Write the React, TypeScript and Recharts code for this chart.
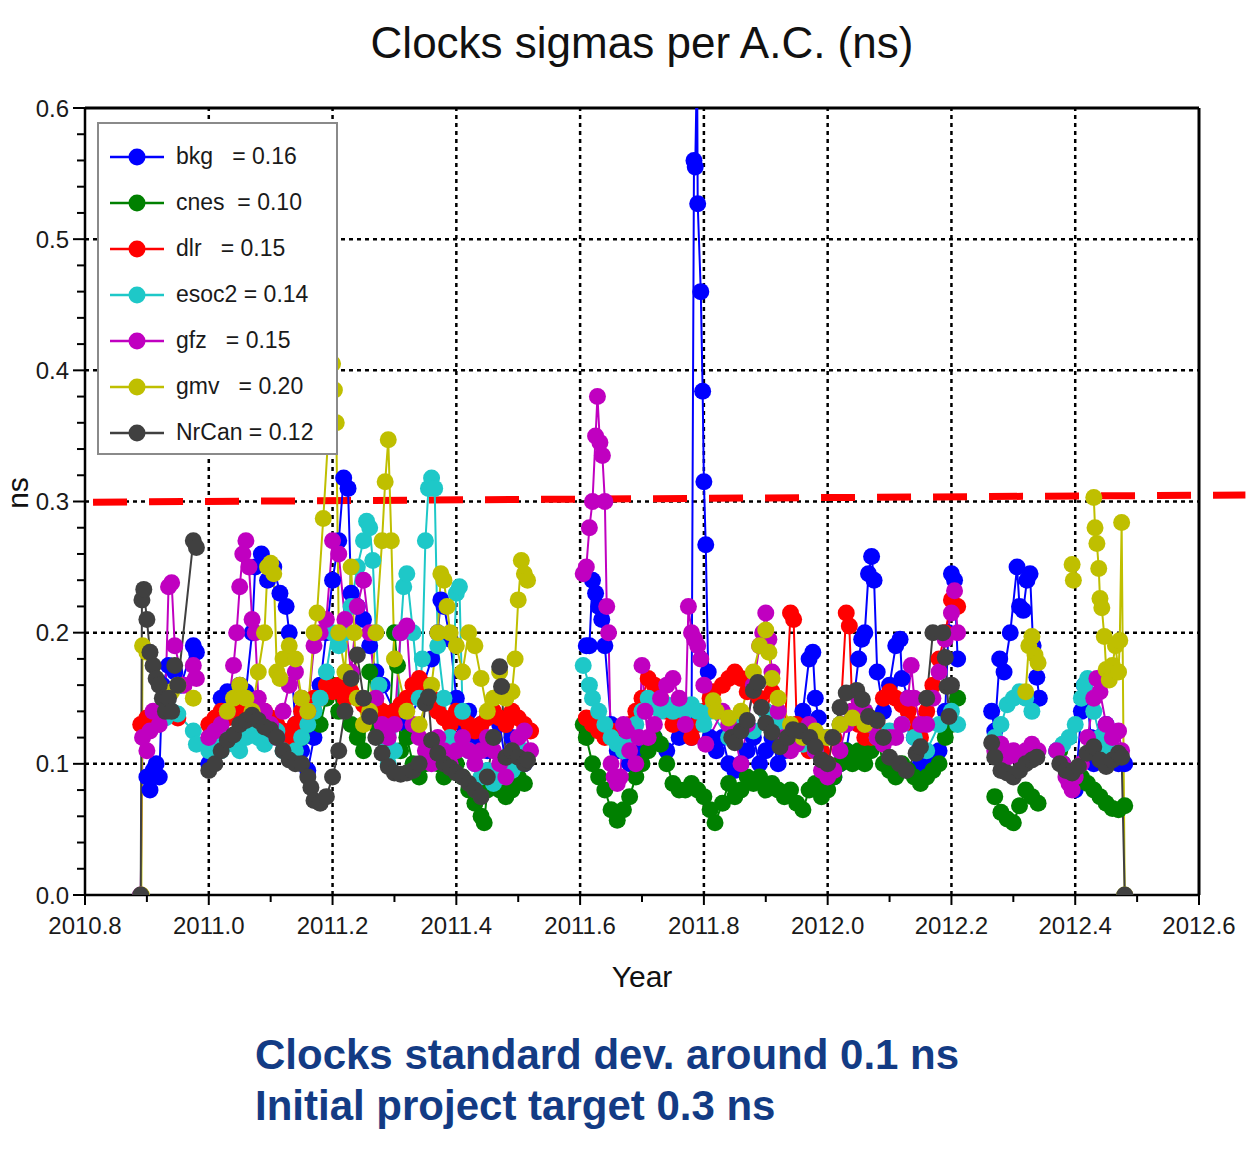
import React from "react";
import { LineChart, Line, XAxis, YAxis, ReferenceLine } from "recharts";

// [year, sigma in ns]; null breaks the line between observation campaigns
type Pt = [number, number | null];

const xTicks = [2010.8, 2010.9, 2011.0, 2011.1, 2011.2, 2011.3, 2011.4, 2011.5, 2011.6, 2011.7, 2011.8, 2011.9, 2012.0, 2012.1, 2012.2, 2012.3, 2012.4, 2012.5, 2012.6];
const yTicks = [0, 0.02, 0.04, 0.06, 0.08, 0.1, 0.12, 0.14, 0.16, 0.18, 0.2, 0.22, 0.24, 0.26, 0.28, 0.3, 0.32, 0.34, 0.36, 0.38, 0.4, 0.42, 0.44, 0.46, 0.48, 0.5, 0.52, 0.54, 0.56, 0.58, 0.6];
const gridX = [2011.0, 2011.2, 2011.4, 2011.6, 2011.8, 2012.0, 2012.2, 2012.4];
const gridY = [0.1, 0.2, 0.3, 0.4, 0.5];
const targetLine = [
  { x: 2010.813, y: 0.2995 },
  { x: 2012.675, y: 0.305 },
];

const bkg: Pt[] = [
  [2010.9, 0.09], [2010.905, 0.08], [2010.91, 0.095], [2010.915, 0.1], [2010.92, 0.09],
  [2010.925, 0.16], [2010.935, 0.175], [2010.945, 0.17], [2010.955, 0.16], [2010.975, 0.19], [2010.98, 0.185],
  [2010.99, null],
  [2011.0, 0.1], [2011.01, 0.13], [2011.02, 0.15], [2011.03, 0.155], [2011.04, 0.15], [2011.05, 0.16], [2011.06, 0.155],
  [2011.07, 0.2], [2011.075, 0.25], [2011.085, 0.26], [2011.095, 0.24], [2011.105, 0.25], [2011.115, 0.23], [2011.125, 0.22],
  [2011.13, 0.2], [2011.14, 0.13], [2011.15, 0.11], [2011.16, 0.095], [2011.17, 0.12], [2011.18, 0.16], [2011.19, 0.2],
  [2011.2, 0.24], [2011.21, 0.27], [2011.218, 0.318], [2011.225, 0.31], [2011.23, 0.23], [2011.24, 0.22], [2011.25, 0.21],
  [2011.26, 0.19], [2011.27, 0.17], [2011.28, 0.16], [2011.3, 0.14], [2011.32, 0.13], [2011.34, 0.15], [2011.36, 0.18],
  [2011.37, 0.2], [2011.375, 0.225], [2011.38, 0.22], [2011.39, 0.195], [2011.4, 0.15], [2011.41, 0.13], [2011.42, 0.14],
  [2011.43, 0.12], [2011.44, 0.13], [2011.45, 0.11], [2011.46, 0.12], [2011.47, 0.13], [2011.48, 0.1], [2011.49, 0.12],
  [2011.5, 0.11], [2011.51, 0.1],
  [2011.56, null],
  [2011.61, 0.19], [2011.615, 0.19], [2011.62, 0.24], [2011.625, 0.23], [2011.63, 0.22], [2011.635, 0.21], [2011.64, 0.19],
  [2011.65, 0.13], [2011.66, 0.11], [2011.68, 0.1], [2011.7, 0.11], [2011.72, 0.12], [2011.74, 0.11], [2011.76, 0.12],
  [2011.78, 0.12], [2011.784, 0.56], [2011.786, 0.555], [2011.789, 0.64], [2011.79, 0.527], [2011.795, 0.46],
  [2011.798, 0.384], [2011.8, 0.315], [2011.803, 0.267], [2011.807, 0.17], [2011.81, 0.12], [2011.82, 0.11],
  [2011.83, 0.12], [2011.84, 0.1], [2011.85, 0.095], [2011.86, 0.1], [2011.87, 0.11], [2011.88, 0.12], [2011.89, 0.1],
  [2011.9, 0.11], [2011.91, 0.12], [2011.92, 0.1], [2011.93, 0.11], [2011.94, 0.12], [2011.95, 0.13], [2011.96, 0.14],
  [2011.97, 0.18], [2011.976, 0.185], [2011.98, 0.15], [2011.985, 0.135], [2011.99, 0.12], [2012.0, 0.1], [2012.01, 0.09],
  [2012.02, 0.1], [2012.03, 0.11], [2012.04, 0.14], [2012.05, 0.18], [2012.055, 0.195], [2012.06, 0.2], [2012.066, 0.245],
  [2012.071, 0.258], [2012.075, 0.24], [2012.08, 0.17], [2012.09, 0.14], [2012.1, 0.16], [2012.11, 0.19], [2012.117, 0.195],
  [2012.12, 0.165], [2012.13, 0.15], [2012.14, 0.12], [2012.15, 0.1], [2012.16, 0.095], [2012.17, 0.1], [2012.18, 0.11],
  [2012.19, 0.14], [2012.195, 0.2], [2012.2, 0.245], [2012.205, 0.24], [2012.21, 0.18],
  [2012.24, null],
  [2012.265, 0.14], [2012.27, 0.125], [2012.278, 0.18], [2012.285, 0.17], [2012.295, 0.2], [2012.306, 0.25], [2012.31, 0.22],
  [2012.316, 0.217], [2012.322, 0.24], [2012.327, 0.245], [2012.332, 0.19], [2012.338, 0.166], [2012.342, 0.15],
  [2012.355, null],
  [2012.37, 0.11], [2012.38, 0.1], [2012.39, 0.09], [2012.4, 0.08], [2012.41, 0.14], [2012.415, 0.16], [2012.42, 0.15],
  [2012.425, 0.12], [2012.43, 0.1], [2012.44, 0.12], [2012.45, 0.13], [2012.46, 0.11], [2012.47, 0.1], [2012.48, 0.1],
];

const cnes: Pt[] = [
  [2011.15, 0.12], [2011.16, 0.13], [2011.17, 0.14], [2011.18, 0.13], [2011.19, 0.15], [2011.2, 0.16], [2011.21, 0.14],
  [2011.22, 0.15], [2011.23, 0.13], [2011.24, 0.12], [2011.25, 0.11], [2011.26, 0.17], [2011.27, 0.13], [2011.28, 0.12],
  [2011.29, 0.11], [2011.3, 0.2], [2011.305, 0.175], [2011.31, 0.11], [2011.32, 0.12], [2011.33, 0.1], [2011.34, 0.09],
  [2011.35, 0.1], [2011.36, 0.11], [2011.37, 0.1], [2011.38, 0.09], [2011.39, 0.1], [2011.4, 0.1], [2011.41, 0.09],
  [2011.42, 0.08], [2011.43, 0.07], [2011.44, 0.06], [2011.445, 0.055], [2011.45, 0.08], [2011.46, 0.09], [2011.47, 0.08],
  [2011.48, 0.075], [2011.49, 0.08], [2011.5, 0.09], [2011.51, 0.085],
  [2011.56, null],
  [2011.605, 0.13], [2011.61, 0.12], [2011.62, 0.1], [2011.63, 0.09], [2011.64, 0.08], [2011.65, 0.065], [2011.66, 0.057],
  [2011.67, 0.065], [2011.68, 0.075], [2011.69, 0.09], [2011.7, 0.1], [2011.71, 0.11], [2011.72, 0.12], [2011.73, 0.115],
  [2011.74, 0.1], [2011.75, 0.085], [2011.76, 0.08], [2011.77, 0.08], [2011.78, 0.085], [2011.79, 0.08], [2011.8, 0.075],
  [2011.81, 0.065], [2011.818, 0.055], [2011.83, 0.07], [2011.84, 0.085], [2011.85, 0.075], [2011.86, 0.08], [2011.87, 0.09],
  [2011.88, 0.085], [2011.89, 0.09], [2011.9, 0.08], [2011.91, 0.085], [2011.92, 0.08], [2011.93, 0.075], [2011.94, 0.08],
  [2011.95, 0.07], [2011.96, 0.065], [2011.97, 0.08], [2011.98, 0.085], [2011.99, 0.075], [2012.0, 0.08], [2012.01, 0.09],
  [2012.02, 0.1], [2012.03, 0.11], [2012.04, 0.1], [2012.05, 0.11], [2012.06, 0.1], [2012.07, 0.11], [2012.08, 0.12],
  [2012.09, 0.1], [2012.1, 0.095], [2012.11, 0.09], [2012.12, 0.1], [2012.13, 0.095], [2012.14, 0.09], [2012.15, 0.085],
  [2012.16, 0.09], [2012.17, 0.095], [2012.18, 0.1], [2012.19, 0.12], [2012.2, 0.13], [2012.21, 0.15],
  [2012.24, null],
  [2012.27, 0.075], [2012.28, 0.063], [2012.29, 0.058], [2012.3, 0.055], [2012.31, 0.068], [2012.32, 0.08], [2012.33, 0.075],
  [2012.34, 0.07],
  [2012.355, null],
  [2012.375, 0.11], [2012.38, 0.1], [2012.39, 0.09], [2012.4, 0.085], [2012.41, 0.09], [2012.42, 0.085], [2012.43, 0.08],
  [2012.44, 0.075], [2012.45, 0.07], [2012.46, 0.066], [2012.47, 0.065], [2012.48, 0.068],
];

const dlr: Pt[] = [
  [2010.89, 0.13], [2010.9, 0.135], [2010.91, 0.133], [2010.92, 0.135], [2010.93, 0.14], [2010.94, 0.138], [2010.95, 0.135],
  [2010.99, null],
  [2011.0, 0.13], [2011.01, 0.135], [2011.02, 0.14], [2011.03, 0.135], [2011.04, 0.14], [2011.05, 0.145], [2011.06, 0.14],
  [2011.07, 0.135], [2011.08, 0.13], [2011.09, 0.14], [2011.1, 0.135], [2011.11, 0.13], [2011.12, 0.125], [2011.13, 0.12],
  [2011.14, 0.13], [2011.15, 0.14], [2011.16, 0.145], [2011.17, 0.15], [2011.18, 0.15], [2011.19, 0.16], [2011.2, 0.155],
  [2011.21, 0.16], [2011.22, 0.15], [2011.23, 0.155], [2011.24, 0.15], [2011.25, 0.145], [2011.26, 0.14], [2011.27, 0.145],
  [2011.28, 0.14], [2011.29, 0.135], [2011.3, 0.14], [2011.31, 0.145], [2011.32, 0.15], [2011.33, 0.16], [2011.34, 0.165],
  [2011.35, 0.16], [2011.36, 0.15], [2011.37, 0.14], [2011.38, 0.135], [2011.39, 0.13], [2011.4, 0.14], [2011.41, 0.135],
  [2011.42, 0.13], [2011.43, 0.125], [2011.44, 0.13], [2011.45, 0.135], [2011.46, 0.14], [2011.47, 0.135], [2011.48, 0.13],
  [2011.49, 0.14], [2011.5, 0.135], [2011.51, 0.13], [2011.52, 0.125],
  [2011.56, null],
  [2011.61, 0.135], [2011.62, 0.13], [2011.63, 0.125], [2011.64, 0.12], [2011.65, 0.125], [2011.66, 0.12], [2011.67, 0.125],
  [2011.68, 0.13], [2011.69, 0.14], [2011.7, 0.15], [2011.71, 0.165], [2011.72, 0.16], [2011.73, 0.15], [2011.74, 0.14],
  [2011.75, 0.13], [2011.76, 0.14], [2011.77, 0.13], [2011.78, 0.12], [2011.79, 0.13], [2011.8, 0.14], [2011.81, 0.15],
  [2011.815, 0.155], [2011.83, 0.16], [2011.84, 0.165], [2011.85, 0.17], [2011.86, 0.165], [2011.87, 0.155], [2011.88, 0.16],
  [2011.89, 0.15], [2011.9, 0.14], [2011.91, 0.155], [2011.92, 0.13], [2011.93, 0.12], [2011.94, 0.215], [2011.945, 0.21],
  [2011.95, 0.13], [2011.96, 0.12], [2011.97, 0.11], [2011.98, 0.12], [2011.99, 0.11], [2012.0, 0.1], [2012.01, 0.12],
  [2012.02, 0.13], [2012.03, 0.215], [2012.035, 0.205], [2012.04, 0.14], [2012.05, 0.13], [2012.06, 0.12], [2012.07, 0.12],
  [2012.08, 0.13], [2012.09, 0.15], [2012.1, 0.155], [2012.11, 0.15], [2012.12, 0.145], [2012.13, 0.14], [2012.14, 0.13],
  [2012.15, 0.12], [2012.16, 0.14], [2012.17, 0.16], [2012.18, 0.18], [2012.19, 0.2], [2012.2, 0.225], [2012.21, 0.22],
];

const esoc2: Pt[] = [
  [2010.93, 0.135], [2010.94, 0.14], [2010.95, 0.138], [2010.975, 0.125], [2010.98, 0.115],
  [2010.99, null],
  [2011.0, 0.11], [2011.01, 0.115], [2011.02, 0.11], [2011.03, 0.12], [2011.04, 0.115], [2011.05, 0.11], [2011.06, 0.12],
  [2011.07, 0.125], [2011.08, 0.12], [2011.09, 0.115], [2011.1, 0.12], [2011.11, 0.125], [2011.12, 0.11], [2011.13, 0.105],
  [2011.14, 0.11], [2011.15, 0.12], [2011.16, 0.13], [2011.17, 0.14], [2011.18, 0.15], [2011.19, 0.17], [2011.2, 0.2],
  [2011.21, 0.19], [2011.22, 0.2], [2011.23, 0.22], [2011.24, 0.25], [2011.25, 0.27], [2011.255, 0.285], [2011.26, 0.28],
  [2011.265, 0.255], [2011.27, 0.2], [2011.275, 0.16], [2011.28, 0.12], [2011.29, 0.1], [2011.3, 0.11], [2011.31, 0.2],
  [2011.315, 0.235], [2011.32, 0.245], [2011.33, 0.2], [2011.34, 0.15], [2011.345, 0.18], [2011.35, 0.27], [2011.355, 0.31],
  [2011.36, 0.318], [2011.365, 0.31], [2011.37, 0.19], [2011.38, 0.15], [2011.39, 0.12], [2011.4, 0.23], [2011.405, 0.235],
  [2011.41, 0.14], [2011.42, 0.11], [2011.43, 0.1], [2011.44, 0.09], [2011.45, 0.095], [2011.46, 0.085], [2011.47, 0.09],
  [2011.48, 0.1], [2011.49, 0.095], [2011.5, 0.1], [2011.51, 0.11],
  [2011.56, null],
  [2011.605, 0.175], [2011.615, 0.16], [2011.62, 0.15], [2011.63, 0.14], [2011.64, 0.13], [2011.65, 0.12], [2011.66, 0.115],
  [2011.67, 0.11], [2011.68, 0.12], [2011.69, 0.13], [2011.7, 0.14], [2011.71, 0.15], [2011.72, 0.145], [2011.73, 0.14],
  [2011.74, 0.145], [2011.75, 0.14], [2011.76, 0.145], [2011.77, 0.14], [2011.78, 0.145], [2011.79, 0.14], [2011.8, 0.13],
  [2011.81, 0.14], [2011.84, 0.12], [2011.86, 0.13], [2011.88, 0.125], [2011.9, 0.14], [2011.92, 0.13], [2011.94, 0.12],
  [2011.96, 0.115], [2011.98, 0.11], [2012.0, 0.12], [2012.02, 0.13], [2012.04, 0.135], [2012.06, 0.14], [2012.07, 0.13],
  [2012.08, 0.12], [2012.09, 0.12], [2012.1, 0.125], [2012.12, 0.13], [2012.14, 0.12], [2012.16, 0.11], [2012.18, 0.13],
  [2012.2, 0.14], [2012.21, 0.13],
  [2012.24, null],
  [2012.27, 0.12], [2012.28, 0.13], [2012.29, 0.145], [2012.3, 0.15], [2012.31, 0.155], [2012.32, 0.15], [2012.33, 0.14],
  [2012.355, null],
  [2012.37, 0.11], [2012.38, 0.115], [2012.39, 0.12], [2012.4, 0.13], [2012.41, 0.15], [2012.415, 0.16], [2012.42, 0.165],
  [2012.43, 0.14], [2012.44, 0.12], [2012.45, 0.11], [2012.46, 0.11],
];

const gfz: Pt[] = [
  [2010.89, 0.0], [2010.893, 0.12], [2010.9, 0.11], [2010.905, 0.125], [2010.91, 0.14], [2010.92, 0.13], [2010.93, 0.15],
  [2010.935, 0.235], [2010.94, 0.238], [2010.945, 0.19], [2010.96, 0.16], [2010.975, 0.175], [2010.98, 0.165],
  [2010.99, null],
  [2011.0, 0.12], [2011.01, 0.125], [2011.02, 0.13], [2011.03, 0.14], [2011.04, 0.175], [2011.045, 0.2], [2011.05, 0.235],
  [2011.055, 0.26], [2011.06, 0.27], [2011.065, 0.25], [2011.07, 0.21], [2011.075, 0.2], [2011.08, 0.15], [2011.09, 0.14],
  [2011.1, 0.13], [2011.11, 0.12], [2011.12, 0.14], [2011.13, 0.16], [2011.14, 0.17], [2011.15, 0.15], [2011.16, 0.14],
  [2011.17, 0.19], [2011.18, 0.2], [2011.19, 0.21], [2011.2, 0.27], [2011.21, 0.26], [2011.22, 0.21], [2011.23, 0.17],
  [2011.24, 0.22], [2011.25, 0.24], [2011.26, 0.2], [2011.27, 0.15], [2011.28, 0.13], [2011.29, 0.12], [2011.3, 0.13],
  [2011.31, 0.2], [2011.32, 0.205], [2011.33, 0.13], [2011.34, 0.12], [2011.35, 0.11], [2011.36, 0.1], [2011.37, 0.12],
  [2011.38, 0.11], [2011.39, 0.1], [2011.4, 0.11], [2011.41, 0.12], [2011.42, 0.11], [2011.43, 0.1], [2011.44, 0.11],
  [2011.45, 0.12], [2011.46, 0.11], [2011.47, 0.1], [2011.48, 0.09], [2011.49, 0.11], [2011.5, 0.12], [2011.51, 0.125],
  [2011.52, 0.11],
  [2011.56, null],
  [2011.605, 0.245], [2011.61, 0.25], [2011.615, 0.28], [2011.62, 0.3], [2011.625, 0.35], [2011.628, 0.38], [2011.632, 0.345],
  [2011.636, 0.335], [2011.64, 0.3], [2011.643, 0.22], [2011.646, 0.2], [2011.65, 0.1], [2011.655, 0.09], [2011.66, 0.085],
  [2011.665, 0.09], [2011.67, 0.13], [2011.675, 0.125], [2011.68, 0.11], [2011.69, 0.1], [2011.695, 0.12], [2011.7, 0.175],
  [2011.705, 0.14], [2011.71, 0.12], [2011.72, 0.13], [2011.73, 0.15], [2011.74, 0.16], [2011.75, 0.165], [2011.76, 0.15],
  [2011.77, 0.13], [2011.775, 0.22], [2011.78, 0.2], [2011.785, 0.195], [2011.79, 0.19], [2011.795, 0.18], [2011.8, 0.16],
  [2011.803, 0.115], [2011.83, 0.14], [2011.84, 0.13], [2011.85, 0.12], [2011.86, 0.1], [2011.87, 0.13], [2011.88, 0.16],
  [2011.89, 0.19], [2011.895, 0.2], [2011.9, 0.215], [2011.905, 0.195], [2011.91, 0.17], [2011.92, 0.14], [2011.93, 0.12],
  [2011.94, 0.11], [2011.95, 0.115], [2011.96, 0.12], [2011.97, 0.13], [2011.98, 0.11], [2011.99, 0.095], [2012.0, 0.09],
  [2012.01, 0.095], [2012.02, 0.11], [2012.03, 0.13], [2012.04, 0.14], [2012.05, 0.15], [2012.06, 0.14], [2012.07, 0.13],
  [2012.08, 0.12], [2012.09, 0.115], [2012.1, 0.12], [2012.11, 0.12], [2012.12, 0.13], [2012.13, 0.15], [2012.135, 0.175],
  [2012.14, 0.15], [2012.15, 0.13], [2012.16, 0.13], [2012.17, 0.15], [2012.18, 0.17], [2012.19, 0.195], [2012.2, 0.215],
  [2012.205, 0.232], [2012.21, 0.2],
  [2012.24, null],
  [2012.27, 0.11], [2012.28, 0.115], [2012.29, 0.105], [2012.3, 0.11], [2012.31, 0.105], [2012.32, 0.11], [2012.33, 0.115],
  [2012.34, 0.11],
  [2012.355, null],
  [2012.37, 0.11], [2012.38, 0.1], [2012.385, 0.09], [2012.39, 0.085], [2012.395, 0.08], [2012.4, 0.09], [2012.41, 0.1],
  [2012.42, 0.12], [2012.43, 0.15], [2012.435, 0.165], [2012.44, 0.155], [2012.45, 0.13], [2012.46, 0.12], [2012.47, 0.125],
  [2012.475, 0.11],
];

const gmv: Pt[] = [
  [2010.891, 0.0], [2010.893, 0.19], [2010.9, 0.185], [2010.94, 0.155], [2010.95, 0.16], [2010.975, 0.15],
  [2010.99, null],
  [2011.03, 0.14], [2011.04, 0.15], [2011.05, 0.16], [2011.06, 0.15], [2011.07, 0.14], [2011.08, 0.17], [2011.09, 0.2],
  [2011.095, 0.25], [2011.1, 0.253], [2011.105, 0.245], [2011.11, 0.17], [2011.115, 0.165], [2011.12, 0.18], [2011.13, 0.19],
  [2011.14, 0.18], [2011.15, 0.15], [2011.16, 0.14], [2011.17, 0.2], [2011.175, 0.215], [2011.185, 0.287], [2011.2, 0.405],
  [2011.203, 0.385], [2011.206, 0.36], [2011.21, 0.2], [2011.22, 0.17], [2011.23, 0.25], [2011.235, 0.2], [2011.24, 0.15],
  [2011.25, 0.13], [2011.26, 0.14], [2011.27, 0.2], [2011.28, 0.27], [2011.285, 0.315], [2011.29, 0.347], [2011.295, 0.27],
  [2011.3, 0.18], [2011.32, 0.14], [2011.34, 0.13], [2011.36, 0.16], [2011.37, 0.2], [2011.375, 0.245], [2011.38, 0.24],
  [2011.385, 0.22], [2011.39, 0.2], [2011.4, 0.19], [2011.41, 0.17], [2011.42, 0.2], [2011.43, 0.19], [2011.44, 0.165],
  [2011.45, 0.14], [2011.46, 0.15], [2011.47, 0.17], [2011.48, 0.15], [2011.49, 0.155], [2011.495, 0.18], [2011.5, 0.225],
  [2011.505, 0.255], [2011.51, 0.245], [2011.515, 0.24],
  [2011.56, null],
  [2011.815, 0.148], [2011.82, 0.14], [2011.84, 0.135], [2011.86, 0.14], [2011.88, 0.17], [2011.89, 0.19], [2011.9, 0.202],
  [2011.905, 0.185], [2011.91, 0.165], [2011.92, 0.15], [2011.94, 0.13], [2011.96, 0.12], [2011.98, 0.125], [2012.0, 0.12],
  [2012.02, 0.13], [2012.04, 0.135], [2012.06, 0.13],
  [2012.24, null],
  [2012.32, 0.155], [2012.325, 0.19], [2012.33, 0.197], [2012.335, 0.183], [2012.34, 0.177],
  [2012.355, null],
  [2012.395, 0.252], [2012.397, 0.24],
  [2012.41, null],
  [2012.43, 0.303], [2012.432, 0.28], [2012.435, 0.268], [2012.438, 0.249], [2012.44, 0.226], [2012.443, 0.219],
  [2012.447, 0.197], [2012.45, 0.172], [2012.455, 0.164], [2012.46, 0.175], [2012.465, 0.19], [2012.47, 0.17],
  [2012.472, 0.194], [2012.475, 0.284], [2012.48, 0.0],
];

const nrcan: Pt[] = [
  [2010.89, 0.0], [2010.892, 0.225], [2010.895, 0.233], [2010.9, 0.21], [2010.905, 0.185], [2010.91, 0.175], [2010.915, 0.165],
  [2010.92, 0.16], [2010.925, 0.15], [2010.93, 0.14], [2010.935, 0.15], [2010.94, 0.14], [2010.945, 0.175], [2010.95, 0.16],
  [2010.975, 0.27], [2010.98, 0.265],
  [2010.99, null],
  [2011.0, 0.095], [2011.01, 0.1], [2011.02, 0.11], [2011.03, 0.118], [2011.04, 0.122], [2011.05, 0.13], [2011.06, 0.133],
  [2011.07, 0.137], [2011.08, 0.133], [2011.09, 0.128], [2011.1, 0.126], [2011.11, 0.12], [2011.12, 0.11], [2011.13, 0.103],
  [2011.14, 0.1], [2011.15, 0.1], [2011.16, 0.09], [2011.165, 0.082], [2011.17, 0.072], [2011.18, 0.07], [2011.19, 0.075],
  [2011.2, 0.09], [2011.21, 0.11], [2011.22, 0.14], [2011.23, 0.165], [2011.24, 0.183], [2011.25, 0.15], [2011.26, 0.136],
  [2011.27, 0.12], [2011.28, 0.108], [2011.29, 0.098], [2011.3, 0.093], [2011.31, 0.092], [2011.32, 0.093], [2011.33, 0.095],
  [2011.34, 0.1], [2011.35, 0.146], [2011.355, 0.151], [2011.36, 0.118], [2011.37, 0.108], [2011.38, 0.1], [2011.39, 0.097],
  [2011.4, 0.093], [2011.41, 0.09], [2011.42, 0.085], [2011.43, 0.08], [2011.44, 0.075], [2011.45, 0.09], [2011.46, 0.12],
  [2011.47, 0.174], [2011.473, 0.159], [2011.48, 0.105], [2011.49, 0.11], [2011.5, 0.105], [2011.51, 0.1], [2011.515, 0.103],
  [2011.56, null],
  [2011.845, 0.12], [2011.85, 0.116], [2011.86, 0.125], [2011.87, 0.133], [2011.88, 0.156], [2011.887, 0.162],
  [2011.893, 0.143], [2011.9, 0.131], [2011.91, 0.124], [2011.923, 0.113], [2011.935, 0.12], [2011.944, 0.126],
  [2011.955, 0.125], [2011.971, 0.12], [2011.98, 0.113], [2011.99, 0.103], [2012.0, 0.1], [2012.008, 0.12], [2012.02, 0.143],
  [2012.03, 0.154], [2012.047, 0.156], [2012.056, 0.149], [2012.066, 0.136], [2012.08, 0.133], [2012.09, 0.12],
  [2012.1, 0.105], [2012.116, 0.1], [2012.127, 0.095], [2012.143, 0.108], [2012.15, 0.113], [2012.16, 0.15], [2012.17, 0.2],
  [2012.186, 0.2], [2012.19, 0.181], [2012.193, 0.159], [2012.196, 0.136], [2012.2, 0.16],
  [2012.24, null],
  [2012.265, 0.116], [2012.27, 0.105], [2012.28, 0.095], [2012.29, 0.093], [2012.3, 0.09], [2012.31, 0.095], [2012.32, 0.1],
  [2012.33, 0.103], [2012.338, 0.105],
  [2012.355, null],
  [2012.375, 0.1], [2012.385, 0.095], [2012.395, 0.093], [2012.405, 0.098], [2012.419, 0.108], [2012.43, 0.113],
  [2012.44, 0.103], [2012.45, 0.098], [2012.46, 0.103], [2012.47, 0.108], [2012.475, 0.105], [2012.48, 0.0],
];

const names = ["bkg", "cnes", "dlr", "esoc2", "gfz", "gmv", "NrCan"];
const legendLabels = ["bkg   = 0.16", "cnes  = 0.10", "dlr   = 0.15", "esoc2 = 0.14", "gfz   = 0.15", "gmv   = 0.20", "NrCan = 0.12"];
const colors = ["#0000ff", "#008000", "#ff0000", "#1ec8c8", "#c000c0", "#bfbf00", "#404040"];
const seriesData = [bkg, cnes, dlr, esoc2, gfz, gmv, nrcan];

const toRows = (pts: Pt[]) => pts.map(([x, y]) => ({ x, y }));

const FONT = "'Liberation Sans', Arial, Helvetica, sans-serif";

const XTick = (props: any) => {
  const { x, y, payload } = props;
  const v = payload.value as number;
  const major = Math.round(v * 10) % 2 === 0;
  return (
    <g>
      <line x1={x} x2={x} y1={y} y2={y + (major ? 10 : 7)} stroke="#000" strokeWidth={2} />
      {major && (
        <text x={x} y={y + 39} textAnchor="middle" fontSize={24} fontFamily={FONT} fill="#1a1a1a">
          {v.toFixed(1)}
        </text>
      )}
    </g>
  );
};

const YTick = (props: any) => {
  const { x, y, payload } = props;
  const v = payload.value as number;
  const major = Math.round(v * 100) % 10 === 0;
  return (
    <g>
      <line x1={x - (major ? 12 : 8)} x2={x} y1={y} y2={y} stroke="#000" strokeWidth={2} />
      {major && (
        <text x={x - 16} y={y + 8.5} textAnchor="end" fontSize={24} fontFamily={FONT} fill="#1a1a1a">
          {v.toFixed(1)}
        </text>
      )}
    </g>
  );
};

const LegendBox = () => (
  <div
    style={{
      position: "absolute",
      left: 97,
      top: 122,
      width: 241,
      height: 333,
      background: "#fff",
      border: "2px solid #8a8a8a",
      fontFamily: FONT,
      fontSize: 23,
      color: "#1a1a1a",
      paddingTop: 10,
      boxSizing: "border-box",
    }}
  >
    {names.map((n, i) => (
      <div key={n} style={{ position: "relative", height: 46 }}>
        <svg width={60} height={46} style={{ position: "absolute", left: 9, top: 0 }}>
          <line x1={2} x2={56} y1={23} y2={23} stroke={colors[i]} strokeWidth={2.5} />
          <circle cx={29} cy={23} r={8.5} fill={colors[i]} />
        </svg>
        <span style={{ position: "absolute", left: 77, top: 9, whiteSpace: "pre", lineHeight: "26px" }}>
          {legendLabels[i]}
        </span>
      </div>
    ))}
  </div>
);

export default function App() {
  return (
    <div style={{ position: "absolute", left: 0, top: 0, width: 1256, height: 1161, background: "#fff", overflow: "hidden" }}>
      <div
        style={{
          position: "absolute",
          left: 0,
          width: 1284,
          top: 21,
          textAlign: "center",
          fontFamily: FONT,
          fontSize: 44,
          lineHeight: "44px",
          color: "#111",
        }}
      >
        Clocks sigmas per A.C. (ns)
      </div>

      <div style={{ position: "absolute", left: 0, top: 0 }}>
        <LineChart width={1256} height={1161} margin={{ top: 108, right: 57, bottom: 216, left: 25 }}>
          <XAxis
            type="number"
            dataKey="x"
            domain={[2010.8, 2012.6]}
            allowDataOverflow
            ticks={xTicks}
            interval={0}
            tick={<XTick />}
            tickLine={false}
            tickSize={0}
            tickMargin={0}
            height={50}
            axisLine={{ stroke: "#000", strokeWidth: 2.5 }}
          />
          <YAxis
            type="number"
            domain={[0, 0.6]}
            allowDataOverflow
            ticks={yTicks}
            interval={0}
            tick={<YTick />}
            tickLine={false}
            tickSize={0}
            tickMargin={0}
            width={60}
            axisLine={{ stroke: "#000", strokeWidth: 2.5 }}
          />
          {gridX.map((g) => (
            <ReferenceLine key={"gx" + g} x={g} stroke="#000" strokeWidth={2.5} strokeDasharray="4 4" />
          ))}
          {gridY.map((g) => (
            <ReferenceLine key={"gy" + g} y={g} stroke="#000" strokeWidth={2.5} strokeDasharray="4 4" />
          ))}
          <ReferenceLine y={0.6} stroke="#000" strokeWidth={3} />
          <ReferenceLine x={2012.6} stroke="#000" strokeWidth={3} />
          <ReferenceLine
            segment={targetLine}
            stroke="#ff0000"
            strokeWidth={7}
            strokeDasharray="34 22"
            ifOverflow="visible"
          />
          {names.map((n, i) => (
            <Line
              key={n}
              name={n}
              data={toRows(seriesData[i])}
              dataKey="y"
              type="linear"
              stroke={colors[i]}
              strokeWidth={2}
              dot={{ r: 8.5, fill: colors[i], stroke: "none" }}
              activeDot={false}
              connectNulls={false}
              isAnimationActive={false}
            />
          ))}
        </LineChart>
      </div>

      <LegendBox />

      <div
        style={{
          position: "absolute",
          left: 0,
          width: 1284,
          top: 962,
          textAlign: "center",
          fontFamily: FONT,
          fontSize: 30,
          lineHeight: "30px",
          color: "#111",
        }}
      >
        Year
      </div>
      <div
        style={{
          position: "absolute",
          left: 18,
          top: 493,
          transform: "translate(-50%, -50%) rotate(-90deg)",
          fontFamily: FONT,
          fontSize: 30,
          lineHeight: "30px",
          color: "#111",
        }}
      >
        ns
      </div>

      <div
        style={{
          position: "absolute",
          left: 255,
          top: 1029,
          fontFamily: FONT,
          fontWeight: "bold",
          fontSize: 42,
          lineHeight: "51px",
          color: "#133b84",
          whiteSpace: "nowrap",
        }}
      >
        <div>Clocks standard dev. around 0.1 ns</div>
        <div>Initial project target 0.3 ns</div>
      </div>
    </div>
  );
}
